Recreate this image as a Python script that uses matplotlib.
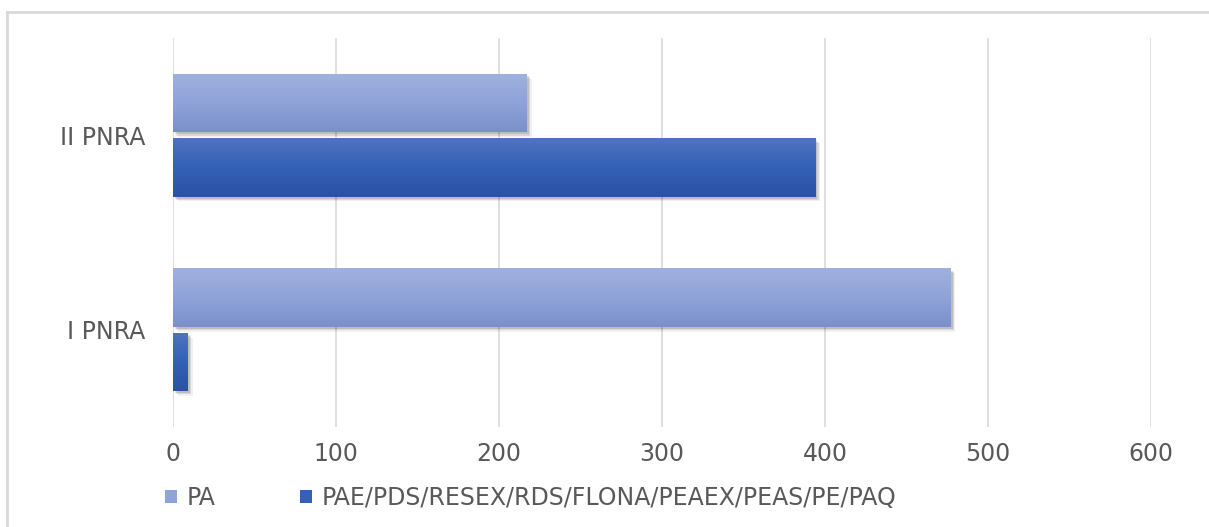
import matplotlib
matplotlib.use("Agg")
import matplotlib.pyplot as plt
import matplotlib.patheffects as pe
from matplotlib.colors import LinearSegmentedColormap
from matplotlib.patches import Patch
from matplotlib.lines import Line2D
import numpy as np

# data
categories = ["I PNRA", "II PNRA"]
pa_values = [477, 217]
pae_values = [9, 394]
series_names = ["PA", "PAE/PDS/RESEX/RDS/FLONA/PEAEX/PEAS/PE/PAQ"]
x_ticks = [0, 100, 200, 300, 400, 500, 600]

plt.rcParams['font.family'] = ['DejaVu Sans']
text_color = "#595959"

fig = plt.figure(figsize=(12.09, 5.27), dpi=100)
ax = fig.add_axes([173 / 1209, 1 - 427 / 527, (1151 - 173) / 1209, (427 - 38) / 527])

# gradients for the two series (top -> bottom)
cmap_pa = LinearSegmentedColormap.from_list("pa", ["#A1B1DF", "#8FA3D8", "#7B90CA"])
cmap_pae = LinearSegmentedColormap.from_list("pae", ["#5173BF", "#3460B5", "#2A52A5"])
grad = np.linspace(0, 1, 100).reshape(-1, 1)

y = np.arange(len(categories))
h = 0.3
off = 0.165

shadow = [pe.SimplePatchShadow(offset=(1.5, -1.5), shadow_rgbFace="#000000", alpha=0.12),
          pe.SimplePatchShadow(offset=(2.5, -2.5), shadow_rgbFace="#000000", alpha=0.10),
          pe.SimplePatchShadow(offset=(3.5, -3.5), shadow_rgbFace="#000000", alpha=0.06),
          pe.Normal()]

bars_pa = ax.barh(y + off, pa_values, height=h, color="#8FA3D8", zorder=3, path_effects=shadow)
bars_pae = ax.barh(y - off, pae_values, height=h, color="#3460B5", zorder=3, path_effects=shadow)

for bars, cm in [(bars_pa, cmap_pa), (bars_pae, cmap_pae)]:
    for b in bars:
        x0, y0 = b.get_x(), b.get_y()
        w, hh = b.get_width(), b.get_height()
        im = ax.imshow(grad, cmap=cm, aspect="auto", extent=[x0, x0 + w, y0, y0 + hh],
                       origin="upper", zorder=4)
        im.set_clip_path(b)

ax.set_xlim(0, 600)
ax.set_ylim(-0.5, 1.5)
ax.set_xticks(x_ticks)
ax.set_xticklabels([str(t) for t in x_ticks])
ax.set_yticks(y)
ax.set_yticklabels(categories)
ax.tick_params(axis="both", length=0, colors=text_color)
ax.tick_params(axis="x", labelsize=17, pad=11)
ax.tick_params(axis="y", labelsize=17, pad=20)
for t in ax.get_xticks():
    ax.axvline(t, color="#D9D9D9", lw=1.2, zorder=1)
for s in ax.spines.values():
    s.set_visible(False)

# outer frame (top and left visible)
fig.add_artist(Line2D([7 / 1209, 1], [1 - 12 / 527, 1 - 12 / 527], transform=fig.transFigure,
                      color="#D9D9D9", lw=2))
fig.add_artist(Line2D([7 / 1209, 7 / 1209], [0, 1 - 12 / 527], transform=fig.transFigure,
                      color="#D9D9D9", lw=2))

handles = [Patch(facecolor="#8FA3D8", edgecolor="none"), Patch(facecolor="#3460B5", edgecolor="none")]
leg = fig.legend(handles, series_names, loc="center left", bbox_to_anchor=(165 / 1209, 1 - 498 / 527),
                 ncol=2, frameon=False, fontsize=17, handlelength=0.5, handleheight=0.5,
                 handletextpad=0.4, columnspacing=3.6, borderpad=0, borderaxespad=0)
for t in leg.get_texts():
    t.set_color(text_color)

fig.savefig("out.png", dpi=100, facecolor="white")
